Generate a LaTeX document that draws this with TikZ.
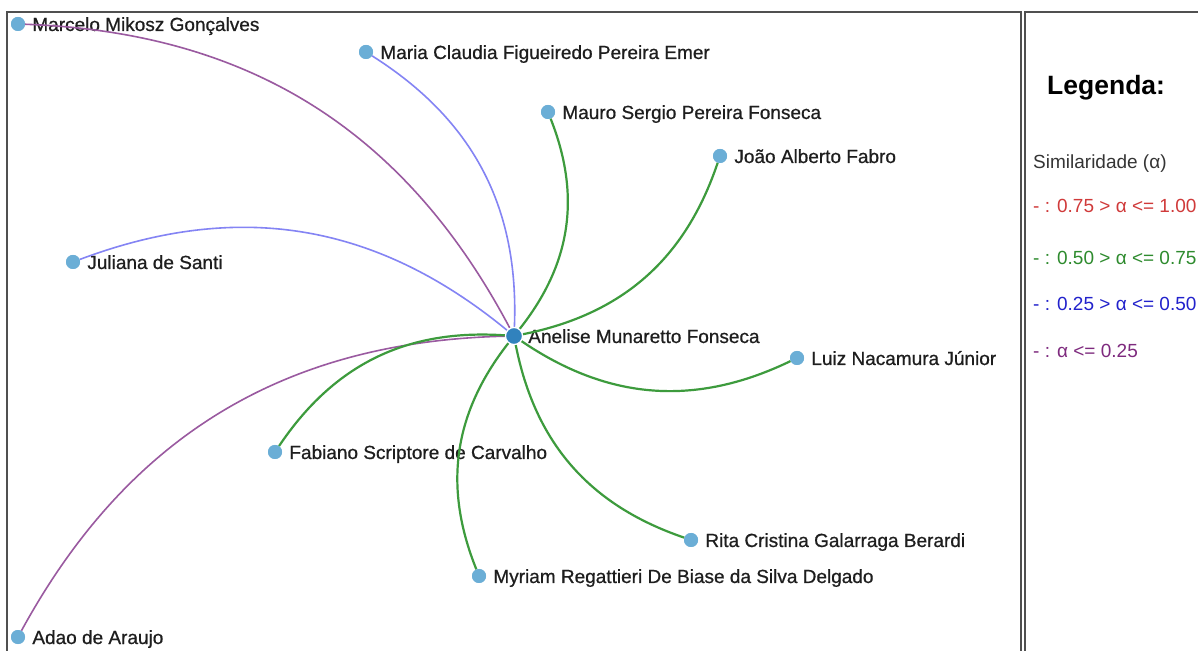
\documentclass[tikz,border=0pt]{standalone}
\usepackage{fontspec}
\setmainfont{Liberation Sans}
\newfontfamily\lblfont[FakeBold=0.7]{Liberation Sans}
\definecolor{ptc}{HTML}{6BAED6}
\definecolor{ctc}{HTML}{3182BD}
\definecolor{egreen}{HTML}{3D9B3D}
\definecolor{eblue}{HTML}{8484F4}
\definecolor{epurple}{HTML}{9A5AA0}
\definecolor{lred}{HTML}{D03A3A}
\definecolor{lgreen}{HTML}{2E8B2E}
\definecolor{lblue}{HTML}{2222CC}
\definecolor{lpurple}{HTML}{7E2A7E}
\definecolor{framec}{HTML}{505050}
\definecolor{txt}{HTML}{1E1E1E}
\tikzset{
  pt/.style={circle,fill=ptc,minimum size=14pt,inner sep=0pt},
  ctr/.style={circle,fill=ctc,draw=white,line width=1.2pt,minimum size=17pt,inner sep=0pt},
  lbl/.style={anchor=base west,inner sep=0pt,text=txt,font=\lblfont\fontsize{19}{23}\selectfont},
  lg/.style={anchor=base west,inner sep=0pt,font=\fontsize{19}{23}\selectfont},
  eg/.style={draw=egreen,line width=2.2pt,bend left=30},
  eb/.style={draw=eblue,line width=1.6pt,bend left=30},
  ep/.style={draw=epurple,line width=1.6pt,bend left=30},
  frame/.style={draw=framec,line width=1.8pt}
}
\begin{document}
\begin{tikzpicture}[x=1pt,y=1pt]
\useasboundingbox (0,0) rectangle (1198,650);
\clip (0,0) rectangle (1198,650);
\fill[white] (0,0) rectangle (1198,650);
% frames
\draw[frame] (7,-10) -- (7,638) -- (1021,638) -- (1021,-10);
\draw[frame] (1025,-10) -- (1025,638) -- (1210,638);
% nodes
\node[pt] (marcelo) at (18,626) {};
\node[pt] (maria) at (366,598) {};
\node[pt] (mauro) at (548,538) {};
\node[pt] (joao) at (720,494) {};
\node[pt] (juliana) at (73,388) {};
\node[pt] (luiz) at (797,292) {};
\node[pt] (fabiano) at (275,198) {};
\node[pt] (rita) at (691,110) {};
\node[pt] (myriam) at (479,74) {};
\node[pt] (adao) at (18,13) {};
\node[ctr] (anelise) at (514,314) {};
% labels
\node[lbl] (marcelo-t) at ([xshift=7pt,yshift=-7pt]marcelo.east) {Marcelo Mikosz Gonçalves};
\node[lbl] (maria-t) at ([xshift=7pt,yshift=-7pt]maria.east) {Maria Claudia Figueiredo Pereira Emer};
\node[lbl] (mauro-t) at ([xshift=7pt,yshift=-7pt]mauro.east) {Mauro Sergio Pereira Fonseca};
\node[lbl] (joao-t) at ([xshift=7pt,yshift=-7pt]joao.east) {João Alberto Fabro};
\node[lbl] (juliana-t) at ([xshift=7pt,yshift=-7pt]juliana.east) {Juliana de Santi};
\node[lbl] (luiz-t) at ([xshift=7pt,yshift=-7pt]luiz.east) {Luiz Nacamura Júnior};
\node[lbl] (fabiano-t) at ([xshift=7pt,yshift=-7pt]fabiano.east) {Fabiano Scriptore de Carvalho};
\node[lbl] (rita-t) at ([xshift=7pt,yshift=-7pt]rita.east) {Rita Cristina Galarraga Berardi};
\node[lbl] (myriam-t) at ([xshift=7pt,yshift=-7pt]myriam.east) {Myriam Regattieri De Biase da Silva Delgado};
\node[lbl] (adao-t) at ([xshift=7pt,yshift=-7pt]adao.east) {Adao de Araujo};
\node[lbl] (anelise-t) at ([xshift=5pt,yshift=-7pt]anelise.east) {Anelise Munaretto Fonseca};
% edges
\draw[ep] (marcelo) to (anelise);
\draw[eb] (maria) to (anelise);
\draw[eg] (mauro) to (anelise);
\draw[eg] (joao) to (anelise);
\draw[eb] (juliana) to (anelise);
\draw[eg] (luiz) to (anelise);
\draw[ep] (adao) to (anelise);
\draw[eg] (fabiano) to (anelise);
\draw[eg] (rita) to (anelise);
\draw[eg] (myriam) to (anelise);
% redraw circles on top
\node[pt] at (marcelo) {};
\node[pt] at (maria) {};
\node[pt] at (mauro) {};
\node[pt] at (joao) {};
\node[pt] at (juliana) {};
\node[pt] at (luiz) {};
\node[pt] at (fabiano) {};
\node[pt] at (rita) {};
\node[pt] at (myriam) {};
\node[pt] at (adao) {};
\node[ctr] at (anelise) {};
% legend
\node[lg,font=\bfseries\fontsize{26.5}{30}\selectfont,text=black] (leg) at (1047,555) {Legenda:};
\node[lg,text=txt!90] (sim) at (1033,481) {Similaridade (α)};
\node[lg,text=lred] (l1) at (1033,437) {- : 0.75 > α <= 1.00};
\node[lg,text=lgreen] (l2) at (1033,385) {- : 0.50 > α <= 0.75};
\node[lg,text=lblue] (l3) at (1033,339) {- : 0.25 > α <= 0.50};
\node[lg,text=lpurple] (l4) at (1033,292) {- : α <= 0.25};
\end{tikzpicture}
\end{document}
